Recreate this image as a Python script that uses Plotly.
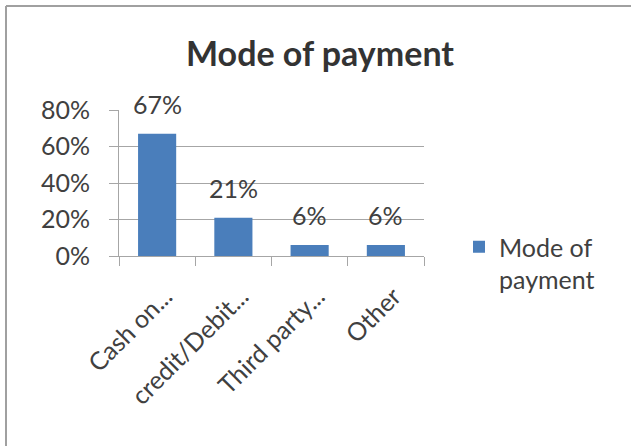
import plotly.graph_objects as go

categories = ["Cash on...", "credit/Debit...", "Third party...", "Other"]
values = [0.67, 0.21, 0.06, 0.06]
labels = ["67%", "21%", "6%", "6%"]
series_name = "Mode of payment"

FONT = "Lato, Open Sans, sans-serif"
TXT = "#404040"
GRID = "#a6a6a6"

fig = go.Figure()
fig.add_trace(go.Bar(
    x=categories, y=values, name="Mode of<br>payment",
    marker=dict(color="#4a7ebb", line=dict(width=0)),
    showlegend=True,
))

for c, v, t in zip(categories, values, labels):
    fig.add_annotation(x=c, y=v, text=t, showarrow=False, yanchor="middle",
                       yshift=30, font=dict(family=FONT, size=25, color=TXT))

fig.update_layout(
    width=631, height=446,
    margin=dict(l=119, r=207, t=110, b=190),
    paper_bgcolor="white", plot_bgcolor="white",
    bargap=0.5,
    title=dict(text="<b>" + series_name + "</b>", xref="container", yref="container",
               x=320/631, y=1-54/446, xanchor="center", yanchor="middle",
               font=dict(family=FONT, size=34, color="#333333")),
    font=dict(family=FONT, color=TXT),
    showlegend=True,
    legend=dict(xref="container", yref="container", x=459/631, y=1-224/446,
                xanchor="left", yanchor="top", valign="top",
                font=dict(family=FONT, size=25, color=TXT),
                itemwidth=30, bgcolor="rgba(0,0,0,0)"),
    shapes=[
        dict(type="line", xref="paper", yref="paper", x0=-113/305, x1=-113/305,
             y0=1+104/146, y1=-190/146, line=dict(color="#a0a0a0", width=2)),
        dict(type="line", xref="paper", yref="paper", x0=-113/305, x1=512/305,
             y0=1+104/146, y1=1+104/146, line=dict(color="#a0a0a0", width=2)),
    ],
)

fig.update_yaxes(range=[0, 0.8], tickvals=[0, 0.2, 0.4, 0.6, 0.8], tickformat=".0%",
                 showgrid=True, gridcolor=GRID, gridwidth=1,
                 showline=True, linecolor=GRID, linewidth=1,
                 ticks="outside", ticklen=9, tickcolor=GRID,
                 tickfont=dict(family=FONT, size=25, color=TXT),
                 ticklabelstandoff=14, zeroline=False, fixedrange=True)
fig.update_xaxes(type="category", showline=True, linecolor=GRID, linewidth=1,
                 ticks="outside", ticklen=9, tickcolor=GRID, tickson="boundaries",
                 tickangle=-45, tickfont=dict(family=FONT, size=25, color=TXT),
                 showgrid=False, ticklabelshift=8, ticklabelstandoff=15, fixedrange=True)

fig.write_html("out.html")
